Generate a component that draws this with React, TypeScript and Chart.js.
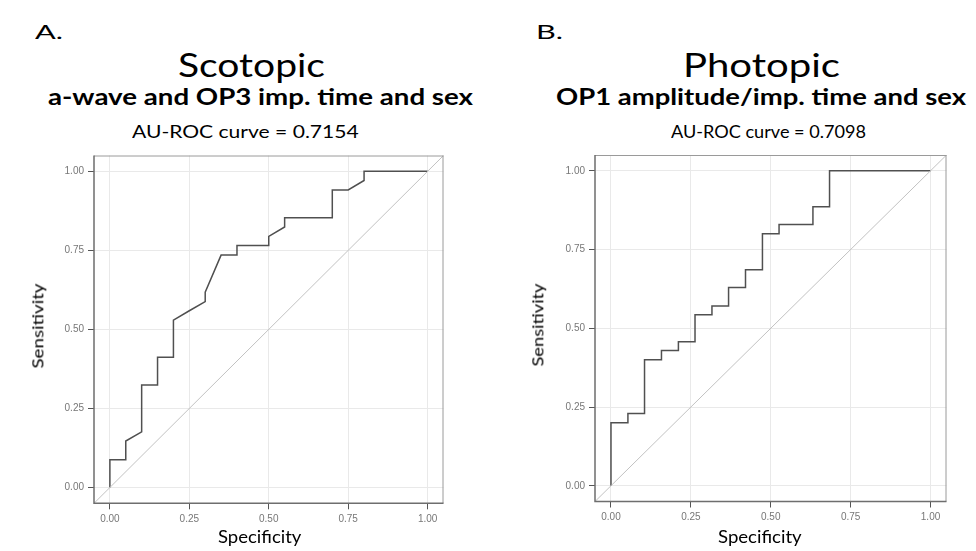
import React, { useEffect, useRef } from "react";
import { Chart, registerables } from "chart.js";

Chart.register(...registerables);

// ---------------- Data ----------------
const tickValues = [0, 0.25, 0.5, 0.75, 1];
const tickLabels = ["0.00", "0.25", "0.50", "0.75", "1.00"];

// Panel A (Scotopic): ROC curve points (x = 1 - specificity axis, y = sensitivity)
const fprA = [0, 0, 0.05, 0.05, 0.1, 0.1, 0.15, 0.15, 0.2, 0.2, 0.25, 0.3, 0.3, 0.35, 0.4, 0.4, 0.5, 0.5, 0.55, 0.55, 0.7, 0.7, 0.75, 0.8, 0.8, 1.0];
const tprA = [0, 0.088, 0.088, 0.147, 0.176, 0.324, 0.324, 0.412, 0.412, 0.529, 0.559, 0.588, 0.618, 0.735, 0.735, 0.765, 0.765, 0.794, 0.824, 0.853, 0.853, 0.941, 0.941, 0.971, 1.0, 1.0];

// Panel B (Photopic)
const fprB = [0, 0, 0.053, 0.053, 0.105, 0.105, 0.158, 0.158, 0.211, 0.211, 0.263, 0.263, 0.316, 0.316, 0.368, 0.368, 0.421, 0.421, 0.474, 0.474, 0.526, 0.526, 0.632, 0.632, 0.684, 0.684, 1.0];
const tprB = [0, 0.2, 0.2, 0.229, 0.229, 0.4, 0.4, 0.429, 0.429, 0.457, 0.457, 0.543, 0.543, 0.571, 0.571, 0.629, 0.629, 0.686, 0.686, 0.8, 0.8, 0.829, 0.829, 0.886, 0.886, 1.0, 1.0];

const diagX = [-0.05, 1.05];
const diagY = [-0.05, 1.05];

// ---------------- Text helpers ----------------
const FAMILY = "Lato";
let mctx: CanvasRenderingContext2D | null = null;
function natWidth(text: string, size: number, weight: number) {
  if (!mctx) mctx = document.createElement("canvas").getContext("2d");
  mctx!.font = `${weight} ${size}px ${FAMILY}`;
  return mctx!.measureText(text).width;
}

function FitText({ text, x, baseline, width, size, weight = 400 }: any) {
  const w = natWidth(text, size, weight);
  const s = width / w;
  return (
    <div
      style={{
        position: "absolute",
        left: x,
        top: baseline - 0.887 * size,
        fontFamily: FAMILY,
        fontSize: size,
        fontWeight: weight,
        lineHeight: `${size}px`,
        whiteSpace: "nowrap",
        color: "#000",
        transform: `scaleX(${s})`,
        transformOrigin: "0 0",
      }}
    >
      {text}
    </div>
  );
}

function RotText({ text, cx, cy, length, size, weight = 400 }: any) {
  const w = natWidth(text, size, weight);
  const s = length / w;
  return (
    <div
      style={{
        position: "absolute",
        left: cx - w / 2,
        top: cy - size / 2,
        width: w,
        fontFamily: FAMILY,
        fontSize: size,
        fontWeight: weight,
        lineHeight: `${size}px`,
        whiteSpace: "nowrap",
        color: "#000",
        transform: `rotate(-90deg) scaleX(${s})`,
        transformOrigin: "50% 50%",
      }}
    >
      {text}
    </div>
  );
}

// ---------------- Chart ----------------
const panelBorder = {
  id: "panelBorder",
  afterDatasetsDraw(chart: any) {
    const { ctx, chartArea: a } = chart;
    ctx.save();
    ctx.strokeStyle = "#9a9a9a";
    ctx.lineWidth = 1;
    ctx.beginPath();
    ctx.moveTo(a.left, a.top + 0.5);
    ctx.lineTo(a.right, a.top + 0.5);
    ctx.moveTo(a.right - 0.5, a.top);
    ctx.lineTo(a.right - 0.5, a.bottom);
    ctx.stroke();
    ctx.strokeStyle = "#6e6e6e";
    ctx.lineWidth = 1.5;
    ctx.beginPath();
    ctx.moveTo(a.left, a.top);
    ctx.lineTo(a.left, a.bottom);
    ctx.lineTo(a.right, a.bottom);
    ctx.stroke();
    ctx.restore();
  },
};

function RocChart({ fpr, tpr, left, top, width, height, area }: any) {
  const ref = useRef<HTMLCanvasElement>(null);
  useEffect(() => {
    const axisCommon = (fitFn: (s: any) => void) => ({
      type: "linear",
      min: -0.05,
      max: 1.05,
      afterBuildTicks: (s: any) => {
        s.ticks = tickValues.map((v) => ({ value: v }));
      },
      afterFit: fitFn,
      grid: {
        color: "#e9e9e9",
        lineWidth: 1,
        tickColor: "#555",
        tickLength: 6,
        tickWidth: 1,
      },
      border: { display: false },
      ticks: {
        callback: (_v: any, i: number) => tickLabels[i],
        color: "#777",
        font: { family: "Liberation Sans", size: 10 },
        padding: 4,
        maxRotation: 0,
        autoSkip: false,
      },
    });
    const chart = new Chart(ref.current!, {
      type: "scatter",
      data: {
        datasets: [
          {
            data: diagX.map((x, i) => ({ x, y: diagY[i] })),
            showLine: true,
            borderColor: "#c2c2c2",
            borderWidth: 1,
            pointRadius: 0,
          },
          {
            data: fpr.map((x: number, i: number) => ({ x, y: tpr[i] })),
            showLine: true,
            borderColor: "#505050",
            borderWidth: 1.5,
            pointRadius: 0,
          },
        ],
      },
      options: {
        animation: false,
        responsive: false,
        devicePixelRatio: 1,
        events: [],
        plugins: { legend: { display: false }, tooltip: { enabled: false } },
        layout: {
          padding: {
            left: 0,
            top: area.top - top,
            right: left + width - area.right,
            bottom: 0,
          },
        },
        scales: {
          x: axisCommon((s: any) => {
            s.height = top + height - area.bottom;
          }) as any,
          y: axisCommon((s: any) => {
            s.width = area.left - left;
          }) as any,
        },
      },
      plugins: [panelBorder],
    });
    return () => chart.destroy();
  }, []);
  return (
    <canvas
      ref={ref}
      width={width}
      height={height}
      style={{ position: "absolute", left, top, width, height }}
    />
  );
}

export default function App() {
  return (
    <div
      style={{
        position: "absolute",
        left: 0,
        top: 0,
        width: 976,
        height: 551,
        background: "#fff",
        overflow: "hidden",
      }}
    >
      <RocChart
        fpr={fprA}
        tpr={tprA}
        left={0}
        top={145}
        width={460}
        height={406}
        area={{ left: 94, right: 443.5, top: 155.5, bottom: 503.3 }}
      />
      <RocChart
        fpr={fprB}
        tpr={tprB}
        left={500}
        top={145}
        width={476}
        height={406}
        area={{ left: 595, right: 946.5, top: 155, bottom: 501.5 }}
      />

      <FitText text="A." x={35} baseline={39} width={28} size={20} />
      <FitText text="Scotopic" x={178} baseline={77.3} width={147} size={33} />
      <FitText text="a-wave and OP3 imp. time and sex" x={48.3} baseline={106} width={425} size={22} weight={700} />
      <FitText text="AU-ROC curve = 0.7154" x={131.7} baseline={138.3} width={226.7} size={18} />
      <RotText text="Sensitivity" cx={37.5} cy={325.7} length={85} size={16} />
      <FitText text="Specificity" x={218.3} baseline={543.5} width={83.4} size={17} />

      <FitText text="B." x={536} baseline={39} width={27} size={20} />
      <FitText text="Photopic" x={683} baseline={77.3} width={157} size={33} />
      <FitText text="OP1 amplitude/imp. time and sex" x={556.3} baseline={106} width={410} size={22} weight={700} />
      <FitText text="AU-ROC curve = 0.7098" x={671.3} baseline={138.3} width={195} size={18} />
      <RotText text="Sensitivity" cx={537.5} cy={325} length={83} size={16} />
      <FitText text="Specificity" x={718} baseline={543.5} width={83.7} size={17} />
    </div>
  );
}
